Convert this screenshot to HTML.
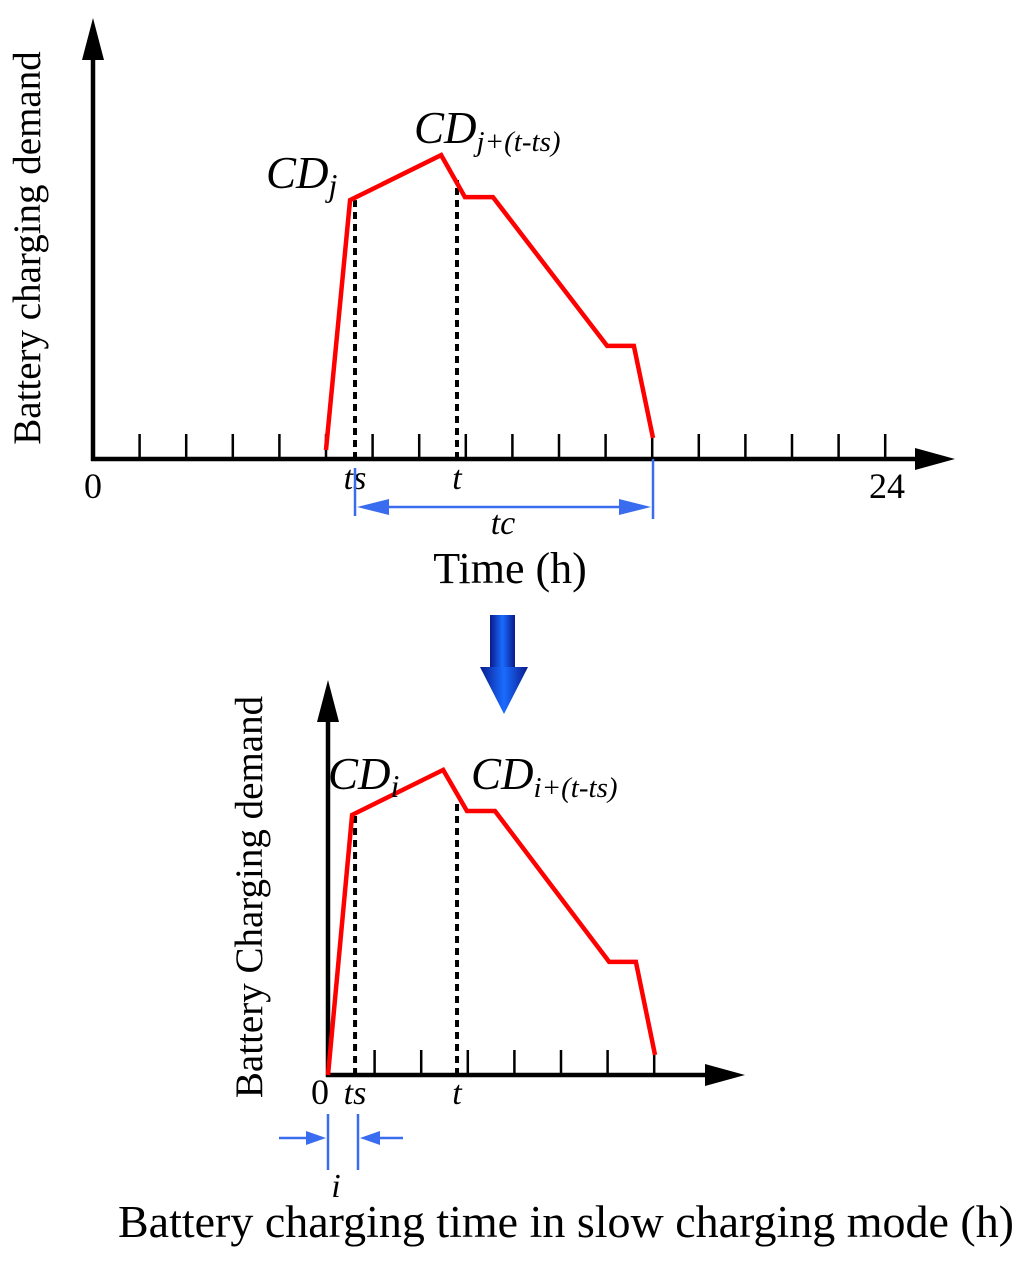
<!DOCTYPE html>
<html><head><meta charset="utf-8"><style>
html,body{margin:0;padding:0;background:#fff}
svg{display:block}
text{font-family:"Liberation Serif",serif;fill:#000}
</style></head><body>
<svg id="fig" width="1024" height="1265" viewBox="0 0 1024 1265">
<defs>
<linearGradient id="ag2" x1="0" y1="0" x2="1" y2="0">
<stop offset="0" stop-color="#0a1a8c"/><stop offset="0.5" stop-color="#1a6cff"/><stop offset="1" stop-color="#0a1a8c"/>
</linearGradient>
</defs>
<g id="top"></g>
<g id="bot"></g>

<text x="40" y="248" font-size="39" text-anchor="middle" transform="rotate(-90 40 248)">Battery charging demand</text>
<text x="93" y="498" font-size="36" text-anchor="middle">0</text>
<text x="887" y="498" font-size="36" text-anchor="middle">24</text>
<text x="355" y="489" font-size="34" font-style="italic" text-anchor="middle">ts</text>
<text x="457" y="489" font-size="34" font-style="italic" text-anchor="middle">t</text>
<text x="503" y="534" font-size="34" font-style="italic" text-anchor="middle">tc</text>
<text x="510" y="583" font-size="44" text-anchor="middle">Time (h)</text>
<text x="266" y="188" font-size="45" font-style="italic">CD<tspan font-size="32" dy="8">j</tspan></text>
<text x="414" y="143" font-size="45" font-style="italic">CD<tspan font-size="29" dy="8">j+(t-ts)</tspan></text>

<g>
<rect x="490" y="615" width="25" height="52" fill="url(#ag2)"/>
<polygon points="480,667 528,667 504,714" fill="url(#ag2)"/>
</g>

<text x="262" y="897" font-size="39" text-anchor="middle" transform="rotate(-90 262 897)">Battery Charging demand</text>
<text x="320" y="1104" font-size="36" text-anchor="middle">0</text>
<text x="355" y="1104" font-size="34" font-style="italic" text-anchor="middle">ts</text>
<text x="457" y="1104" font-size="34" font-style="italic" text-anchor="middle">t</text>
<text x="336" y="1197" font-size="34" font-style="italic" text-anchor="middle">i</text>
<text x="328" y="789" font-size="45" font-style="italic">CD<tspan font-size="32" dy="8">i</tspan></text>
<text x="471" y="789" font-size="45" font-style="italic">CD<tspan font-size="29" dy="8">i+(t-ts)</tspan></text>
<text x="566" y="1237" font-size="45" text-anchor="middle" textLength="896" lengthAdjust="spacingAndGlyphs">Battery charging time in slow charging mode (h)</text>
</svg>
<script>
const topHours = [7.06, 7.79, 10.55, 11.27, 12.12, 15.58, 16.39, 16.97];
const topDemand = [3, 86.3, 101.3, 87.3, 87.3, 37.7, 37.7, 7];
const botHours = [0, 0.73, 3.49, 4.21, 5.06, 8.52, 9.33, 9.91];
const botDemand = [0, 86.7, 101.7, 88, 88, 37.7, 37.7, 6.7];
const topMarkers = [7.94, 11.03];
const topMarkerDemand = [86.3, 93];
const botMarkers = [0.82, 3.91];
const botMarkerDemand = [86.7, 91];
const topTickCount = 17;
const botTickCount = 7;

const NS = 'http://www.w3.org/2000/svg';
function mk(parent, tag, attrs){const e=document.createElementNS(NS,tag);for(const k in attrs)e.setAttribute(k,attrs[k]);parent.appendChild(e);return e;}
const HS = 33;
const VS = 3;

function drawChart(g, x0, y0, yTop, xEnd, hours, dem, mk1, mkd, nt){
  const X = h => x0 + h*HS;
  const Y = v => y0 - v*VS;
  const ya = mk(g,'line',{x1:x0,y1:y0+2,x2:x0,y2:yTop+40,stroke:'#000','stroke-width':4.5});
  
  
  const yh = mk(g,'polygon',{points:`${x0-11},${yTop+42} ${x0+11},${yTop+42} ${x0},${yTop}`,fill:'#000'});
  
  
  const xa = mk(g,'line',{x1:x0-2,y1:y0,x2:xEnd-38,y2:y0,stroke:'#000','stroke-width':4.5});
  
  
  const xh = mk(g,'polygon',{points:`${xEnd-40},${y0-11} ${xEnd-40},${y0+11} ${xEnd},${y0}`,fill:'#000'});
  
  
  for(let i=1;i<=nt;i++){
    const tx = x0 + i*46.6;
    const t = mk(g,'line',{x1:tx,y1:y0,x2:tx,y2:y0-25,stroke:'#000','stroke-width':2.5});
    
    
  }
  for(let i=0;i<mk1.length;i++){
    const d = mk(g,'line',{x1:X(mk1[i]),y1:y0,x2:X(mk1[i]),y2:Y(mkd[i]),stroke:'#000','stroke-width':4,'stroke-dasharray':'7,5'});
    
    
  }
  const pts = hours.map((h,i)=>X(h)+','+Y(dem[i])).join(' ');
  const p = mk(g,'polyline',{points:pts,fill:'none',stroke:'#ff0000','stroke-width':4.5,'stroke-linejoin':'miter'});
  
  
  return X;
}
const Xt = drawChart(document.getElementById('top'),93,459,18,955,topHours,topDemand,topMarkers,topMarkerDemand,topTickCount);
const Xb = drawChart(document.getElementById('bot'),328,1075,680,745,botHours,botDemand,botMarkers,botMarkerDemand,botTickCount);

const svg = document.getElementById('fig');
const B = '#3a6cf0';
const blue = mk(svg,'g',{});


const xs = Xt(topMarkers[0]), xe = Xt(topHours[topHours.length-1]);
mk(blue,'line',{x1:xs,y1:468,x2:xs,y2:516,stroke:B,'stroke-width':2.5});
mk(blue,'line',{x1:xe,y1:459,x2:xe,y2:519,stroke:B,'stroke-width':2.5});
mk(blue,'line',{x1:xs+20,y1:507,x2:xe-20,y2:507,stroke:B,'stroke-width':2.5});
mk(blue,'polygon',{points:`${xs+2},507 ${xs+34},499 ${xs+34},515`,fill:B});
mk(blue,'polygon',{points:`${xe-2},507 ${xe-34},499 ${xe-34},515`,fill:B});
const b0 = 328, b1 = 358;
mk(blue,'line',{x1:b0,y1:1114,x2:b0,y2:1170,stroke:B,'stroke-width':2.5});
mk(blue,'line',{x1:b1,y1:1114,x2:b1,y2:1170,stroke:B,'stroke-width':2.5});
mk(blue,'line',{x1:279,y1:1138,x2:b0-14,y2:1138,stroke:B,'stroke-width':2.5});
mk(blue,'polygon',{points:`${b0-2},1138 ${b0-22},1131 ${b0-22},1145`,fill:B});
mk(blue,'line',{x1:b1+14,y1:1138,x2:403,y2:1138,stroke:B,'stroke-width':2.5});
mk(blue,'polygon',{points:`${b1+2},1138 ${b1+22},1131 ${b1+22},1145`,fill:B});
</script>
</body></html>
